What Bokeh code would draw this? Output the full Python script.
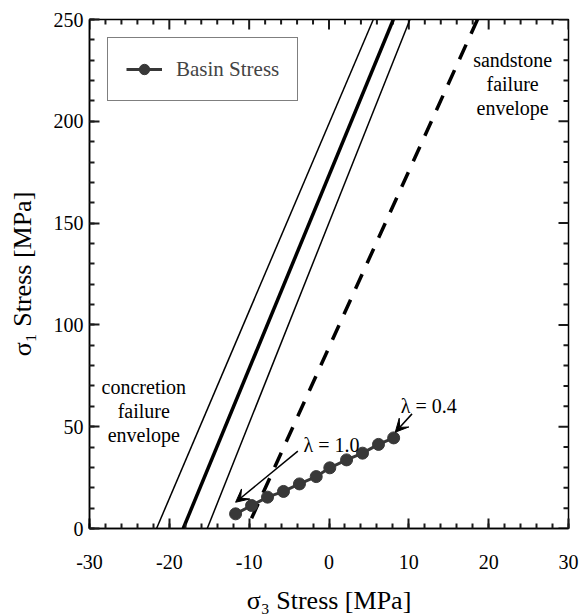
import numpy as np
from bokeh.plotting import figure
from bokeh.models import (Range1d, SingleIntervalTicker, Arrow, VeeHead,
                          Label, Legend, LegendItem)
from bokeh.embed import file_html
from bokeh.resources import INLINE

# ---- data ----
basin_sigma3 = [-11.7, -9.7, -7.7, -5.7, -3.7, -1.6, 0.1, 2.2, 4.2, 6.2, 8.1]
basin_sigma1 = [7.2, 11.3, 15.4, 18.2, 21.9, 25.5, 29.8, 33.7, 37.0, 41.3, 44.5]

concretion_sigma1 = [0.0, 250.0]
concretion_low_sigma3 = [-21.6, 5.55]
concretion_mid_sigma3 = [-18.26, 8.06]
concretion_high_sigma3 = [-15.25, 10.14]

sandstone_sigma3 = [-9.7, 18.6]
sandstone_sigma1 = [5.0, 250.0]

x_limits = (-30.0, 30.0)
y_limits = (0.0, 250.0)
x_major_ticks = [-30.0, -20.0, -10.0, 0.0, 10.0, 20.0, 30.0]
x_tick_labels = ["-30", "-20", "-10", "0", "10", "20", "30"]
x_minor_ticks = [float(v) for v in range(-30, 31, 2) if v % 10]
y_major_ticks = [0.0, 50.0, 100.0, 150.0, 200.0, 250.0]
y_tick_labels = ["0", "50", "100", "150", "200", "250"]
y_minor_ticks = [float(v) for v in range(0, 251, 10) if v % 50]

lambda10_arrow = dict(x_start=-3.9, y_start=38.0, x_end=-11.7, y_end=12.9)
lambda04_arrow = dict(x_start=10.4, y_start=56.3, x_end=8.3, y_end=47.3)

FONT = "Liberation Serif"
INK = "#383838"
TICK = "#1a1a1a"
FRAME_W, FRAME_H = 479, 509
MAJOR_LEN = 10
MINOR_LEN = 5

p = figure(frame_width=FRAME_W, frame_height=FRAME_H,
           x_range=Range1d(*x_limits), y_range=Range1d(*y_limits),
           output_backend="svg", toolbar_location=None,
           min_border_left=89, min_border_right=13, min_border_top=19, min_border_bottom=86,
           x_axis_label="σ₃ Stress [MPa]", y_axis_label="σ₁ Stress [MPa]")
p.grid.visible = False
p.outline_line_color = "black"
p.outline_line_width = 1.5

bottom = p.below[0]
left = p.left[0]
bottom.ticker = SingleIntervalTicker(interval=10, num_minor_ticks=5)
left.ticker = SingleIntervalTicker(interval=50, num_minor_ticks=5)
bottom.major_label_overrides = dict(zip(x_major_ticks, x_tick_labels))
left.major_label_overrides = dict(zip(y_major_ticks, y_tick_labels))

for ax in [bottom, left]:
    ax.major_tick_in = MAJOR_LEN
    ax.major_tick_out = 0
    ax.minor_tick_in = MINOR_LEN
    ax.minor_tick_out = 0
    ax.major_tick_line_color = TICK
    ax.minor_tick_line_color = TICK
    ax.major_tick_line_width = 2
    ax.minor_tick_line_width = 2
    ax.axis_line_width = 1.5
    ax.axis_line_color = "black"
    ax.major_label_text_font = FONT
    ax.major_label_text_font_size = "20px"
    ax.major_label_text_color = "black"
    ax.axis_label_text_font = FONT
    ax.axis_label_text_font_style = "normal"
    ax.axis_label_text_font_size = "26px"
    ax.axis_label_text_color = "black"

bottom.major_label_standoff = 26
bottom.axis_label_standoff = 14
left.major_label_standoff = 6
left.axis_label_standoff = 14

# inward ticks on the top and right edges (lengths converted from px to data units)
dx_per_px = (x_limits[1] - x_limits[0]) / FRAME_W
dy_per_px = (y_limits[1] - y_limits[0]) / FRAME_H

def top_ticks(vals, length_px):
    n = len(vals)
    p.segment(x0=vals, y0=[y_limits[1]] * n, x1=vals,
              y1=[y_limits[1] - length_px * dy_per_px] * n, line_color=TICK, line_width=2)

def right_ticks(vals, length_px):
    n = len(vals)
    p.segment(x0=[x_limits[1]] * n, y0=vals, x1=[x_limits[1] - length_px * dx_per_px] * n,
              y1=vals, line_color=TICK, line_width=2)

top_ticks(x_major_ticks, MAJOR_LEN)
top_ticks(x_minor_ticks, MINOR_LEN)
right_ticks(y_major_ticks, MAJOR_LEN)
right_ticks(y_minor_ticks, MINOR_LEN)

# concretion failure envelope
p.line(concretion_low_sigma3, concretion_sigma1, line_color="black", line_width=1.5)
p.line(concretion_mid_sigma3, concretion_sigma1, line_color="black", line_width=3.5)
p.line(concretion_high_sigma3, concretion_sigma1, line_color="black", line_width=1.5)

# sandstone failure envelope
p.line(sandstone_sigma3, sandstone_sigma1, line_color="black", line_width=3.5, line_dash="16 12")

# basin stress
bl = p.line(basin_sigma3, basin_sigma1, line_color=INK, line_width=3)
bs = p.scatter(basin_sigma3, basin_sigma1, size=12, fill_color=INK, line_color=INK)

legend = Legend(items=[LegendItem(label="Basin Stress", renderers=[bl, bs])],
                location="top_left", margin=18, padding=18,
                border_line_color="black", border_line_width=1.5,
                label_text_font=FONT, label_text_font_size="21px", label_text_color="#444444",
                glyph_width=36, glyph_height=26, label_height=26, label_standoff=14,
                background_fill_alpha=1.0)
p.add_layout(legend)

p.add_layout(Arrow(end=VeeHead(size=13, fill_color="black", line_color="black"),
                   line_width=1.5, line_color="black", **lambda10_arrow))
p.add_layout(Arrow(end=VeeHead(size=13, fill_color="black", line_color="black"),
                   line_width=1.5, line_color="black", **lambda04_arrow))

def add_text(x, y, t, align="center", baseline="middle", size="20px"):
    p.add_layout(Label(x=x, y=y, text=t, text_font=FONT, text_font_size=size,
                       text_align=align, text_baseline=baseline, text_color="black"))

add_text(-3.2, 40.8, "λ = 1.0", align="left", baseline="alphabetic")
add_text(9.0, 60.4, "λ = 0.4", align="left", baseline="alphabetic")

for t, yv in zip(["concretion", "failure", "envelope"], [69.4, 57.9, 45.7]):
    add_text(-23.2, yv, t)
for t, yv in zip(["sandstone", "failure", "envelope"], [229.9, 218.1, 206.3]):
    add_text(23.0, yv, t)

open("out.html", "w").write(file_html(p, INLINE))
